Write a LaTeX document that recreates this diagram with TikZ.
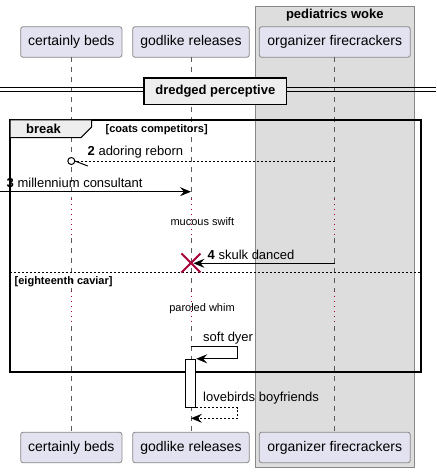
\documentclass[tikz,border=0pt]{standalone}
\usepackage{fontspec}
\setmainfont{Liberation Sans}
\usepackage{tikz}
\usetikzlibrary{positioning, arrows.meta}
\definecolor{part_fill}{RGB}{226,226,240}
\definecolor{part_line}{RGB}{136,136,136}
\definecolor{group_fill}{RGB}{221,221,221}
\definecolor{frame_fill}{RGB}{238,238,238}
\definecolor{life_gray}{RGB}{90,90,90}
\definecolor{delay_red}{RGB}{168,0,54}
\tikzstyle{participant} = [rectangle, rounded corners=2.5pt, minimum height=30.6pt, inner sep=0pt,
                    outer sep=0pt, fill=part_fill, draw=part_line, line width=0.8pt,
                    font=\fontsize{14}{16}\selectfont]
\tikzstyle{lifeline} = [life_gray, line width=0.8pt, dash pattern=on 5pt off 5pt]
\tikzstyle{delayline} = [delay_red, line width=0.9pt, dash pattern=on 1pt off 4pt]
\tikzstyle{msg} = [line width=1pt, -{Stealth[length=11pt, width=9pt, inset=4pt]}]
\tikzstyle{reply} = [msg, dash pattern=on 2pt off 2pt]
\tikzstyle{msglabel} = [inner sep=0pt, anchor=base west, font=\fontsize{13}{15}\selectfont]
\tikzstyle{delaylabel} = [inner sep=0pt, font=\fontsize{11}{13}\selectfont]
\tikzstyle{guard} = [inner sep=0pt, anchor=base west, font=\fontsize{11}{13}\selectfont\bfseries]

\begin{document}
\begin{tikzpicture}[x=1pt, y=-1pt]

    \useasboundingbox (0,0) rectangle (436,473);

    % box round the third participant
    \draw[fill=group_fill, draw=part_line, line width=0.8pt] (255.3,6) rectangle (414.3,467.7);
    \node[inner sep=0pt, font=\fontsize{13}{15}\selectfont\bfseries] (grouptitle) at (334.8,15.5) {pediatrics woke};

    % participants, top and bottom
    \node[participant, minimum width=101.3pt] (bedsTop) at (71.3,42) {certainly beds};
    \node[participant, minimum width=116.6pt] (relTop) [right=10.7pt of bedsTop] {godlike releases};
    \node[participant, minimum width=151pt] (firTop) [right=10pt of relTop] {organizer firecrackers};
    \node[participant, minimum width=101.3pt] (bedsBot) at (71.3,447.5) {certainly beds};
    \node[participant, minimum width=116.6pt] (relBot) [right=10.7pt of bedsBot] {godlike releases};
    \node[participant, minimum width=151pt] (firBot) [right=10pt of relBot] {organizer firecrackers};

    % lifelines, dotted during the delays
    \coordinate (delayA) at (0,199);
    \coordinate (delayB) at (0,238);
    \coordinate (delayC) at (0,291);
    \coordinate (delayD) at (0,326);
    \foreach \p in {beds, rel, fir} {
        \draw[lifeline] (\p Top.south) -- (\p Top.south |- delayA);
        \draw[delayline] (\p Top.south |- delayA) -- (\p Top.south |- delayB);
        \draw[lifeline] (\p Top.south |- delayB) -- (\p Top.south |- delayC);
        \draw[delayline] (\p Top.south |- delayC) -- (\p Top.south |- delayD);
        \draw[lifeline] (\p Top.south |- delayD) -- (\p Bot.north);
    }

    % divider
    \draw[line width=0.8pt] (0,87.3) -- (436,87.3);
    \draw[line width=0.8pt] (0,91.3) -- (436,91.3);
    \node[fill=frame_fill, draw, line width=1.6pt, minimum width=142.7pt, minimum height=26.7pt,
          inner sep=0pt, font=\fontsize{13}{15}\selectfont\bfseries] (divider) at (215.3,91.3) {dredged perceptive};

    % break frame
    \draw[line width=1.6pt] (10,120) rectangle (420.7,372);
    \draw[line width=1pt, fill=frame_fill] (10,120) -- (91.7,120) -- (91.7,127) -- (81,137.7) -- (10,137.7) -- cycle;
    \node[inner sep=0pt, font=\fontsize{13}{15}\selectfont\bfseries] (breaktag) at (43.5,129) {break};
    \node[guard] (guardA) at (105.5,133) {[coats competitors]};
    \draw[line width=0.9pt, dash pattern=on 2pt off 2pt] (10,272.3) -- (420.7,272.3);
    \node[guard] (guardB) at (14.5,284) {[eighteenth caviar]};

    % message 2
    \coordinate (m2s) at (firTop.south |- 0,161);
    \coordinate (m2e) at (bedsTop.south |- 0,161);
    \draw[line width=0.9pt, dash pattern=on 2pt off 2pt] (m2s) -- ([xshift=3.5pt]m2e);
    \draw[line width=1pt, fill=white] (m2e) circle (3.5pt);
    \draw[line width=1pt] ([xshift=3.5pt]m2e) -- ++(13,5);
    \node[msglabel] (lbl2) at (87.5,155) {\textbf{2} adoring reborn};

    % message 3
    \coordinate (m3s) at (0,191.7);
    \coordinate (m3e) at (relTop.south |- 0,191.7);
    \draw[msg] (m3s) -- (m3e);
    \node[msglabel] (lbl3) at (6.5,187) {\textbf{3} millennium consultant};

    \node[delaylabel] (delay1) at (202.3,221.7) {mucous swift};

    % message 4 and destroy
    \coordinate (m4s) at (firTop.south |- 0,263.3);
    \coordinate (m4e) at ([xshift=2.5pt]relTop.south |- 0,263.3);
    \draw[msg] (m4s) -- (m4e);
    \node[msglabel] (lbl4) at (207.5,259) {\textbf{4} skulk danced};
    \coordinate (cross) at (relTop.south |- 0,263);
    \draw[delay_red, line width=2pt] ([shift={(-9.5pt,9.5pt)}]cross) -- ([shift={(9.5pt,-9.5pt)}]cross);
    \draw[delay_red, line width=2pt] ([shift={(-9.5pt,-9.5pt)}]cross) -- ([shift={(9.5pt,9.5pt)}]cross);

    \node[delaylabel] (delay2) at (202,309) {paroled whim};

    % self message and its reply
    \node[rectangle, fill=white, draw, line width=1pt, minimum width=10.4pt, minimum height=48pt,
          inner sep=0pt] (act) at (190.5,383.3) {};
    \coordinate (m5s) at (relTop.south |- 0,346.7);
    \draw[msg] (m5s) -- ++(47,0) |- (act.north east);
    \node[msglabel] (lbl5) at (203,341.5) {soft dyer};
    \coordinate (m6e) at (relTop.south |- 0,418.3);
    \draw[reply] (act.south east) -- ++(41.6,0) |- (m6e);
    \node[msglabel] (lbl6) at (203,401.5) {lovebirds boyfriends};

\end{tikzpicture}
\end{document}
